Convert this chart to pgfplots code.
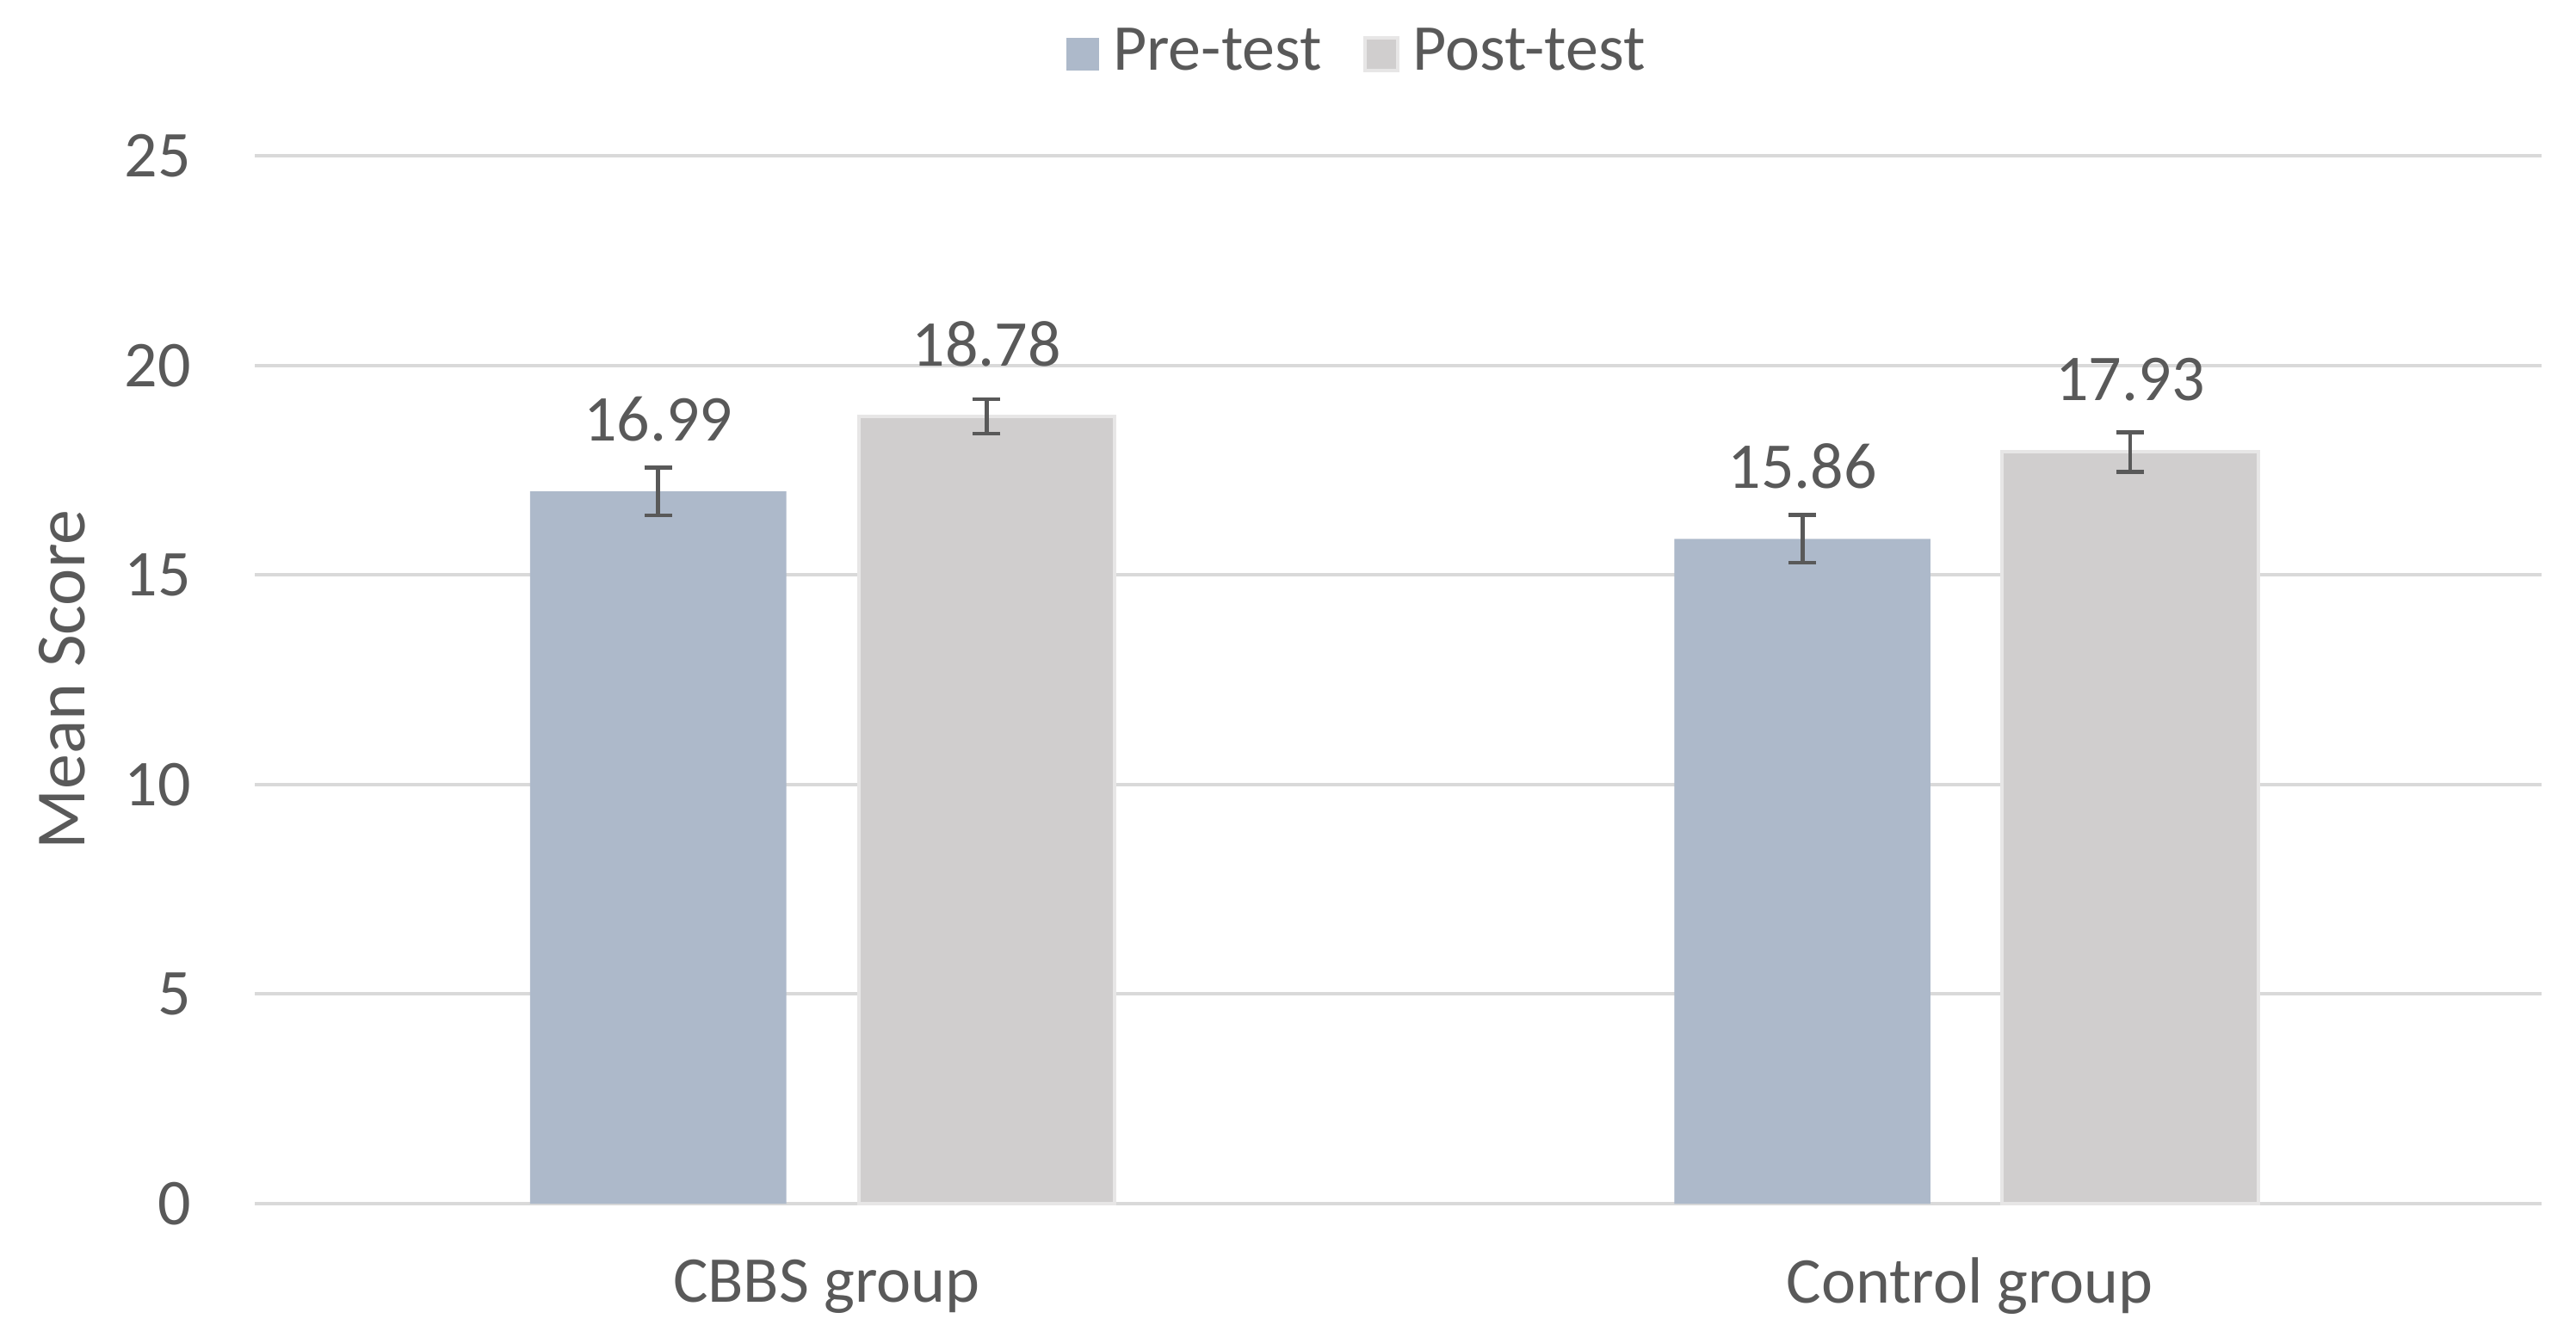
\documentclass[border=0pt]{standalone}
\usepackage{pgfplots}
\pgfplotsset{compat=1.18}
\usepackage{fontspec}
\setmainfont{Carlito}
\definecolor{txt}{HTML}{595959}
\definecolor{gridc}{HTML}{D9D9D9}
\definecolor{pre}{HTML}{ADB9CA}
\definecolor{post}{HTML}{D0CECE}
\definecolor{postedge}{HTML}{E7E6E6}
\begin{document}
\fontsize{19}{22}\selectfont
\begin{tikzpicture}
\useasboundingbox (0,0) rectangle (748.25pt,388.25pt);
\begin{axis}[
  at={(74pt,38.5pt)}, anchor=south west,
  scale only axis, width=664.25pt, height=304.5pt,
  xmin=-0.5, xmax=1.5, ymin=0, ymax=25,
  ytick={0,5,...,25},
  xtick={0,1}, xticklabels={CBBS group, Control group},
  major tick length=0pt,
  axis line style={draw=none},
  ymajorgrids, grid style={gridc, line width=1pt},
  /pgf/number format/assume math mode=true,
  tick label style={font=\fontsize{19}{22}\selectfont, text=txt},
  yticklabel style={xshift=-12pt},
  xticklabel style={anchor=center, yshift=-24pt},
  ylabel={Mean Score},
  ylabel style={at={(axis description cs:-0.0843,0.5)}, anchor=center, font=\fontsize{20.5}{24}\selectfont, text=txt},
  clip=false,
  legend style={at={(axis description cs:0.483,1.097)}, anchor=center, draw=none, fill=none,
    legend columns=2, font=\fontsize{19}{22}\selectfont, text=txt,
    /tikz/every odd column/.append style={column sep=2pt},
    /tikz/every even column/.append style={column sep=10pt}},
  nodes near coords,
  nodes near coords style={/pgf/number format/fixed, /pgf/number format/precision=2, /pgf/number format/fixed zerofill,
    font=\fontsize{19}{22}\selectfont, text=txt, anchor=center, yshift=21pt},
]
\addplot[ybar, fill=pre, draw=none, bar width=0.224, bar shift=0pt,
  legend image code/.code={\fill[pre] (0pt,-4.75pt) rectangle (9.5pt,4.75pt);},
  error bars/.cd, y dir=both, y explicit,
  error bar style={line width=1.2pt, txt},
  error mark options={rotate=90, mark size=4pt, line width=1.2pt, txt}]
  coordinates {(-0.1472,16.99) +- (0,0.57) (0.8535,15.86) +- (0,0.57)};
\addlegendentry{Pre-test}
\addplot[ybar, fill=post, draw=postedge, line width=1pt, bar width=0.224, bar shift=0pt,
  legend image code/.code={\draw[fill=post, draw=postedge, line width=1pt] (0pt,-4.75pt) rectangle (9.5pt,4.75pt);},
  error bars/.cd, y dir=both, y explicit,
  error bar style={line width=1.2pt, txt},
  error mark options={rotate=90, mark size=4pt, line width=1.2pt, txt}]
  coordinates {(0.1401,18.78) +- (0,0.41) (1.1401,17.93) +- (0,0.47)};
\addlegendentry{Post-test}
\end{axis}
\end{tikzpicture}
\end{document}
